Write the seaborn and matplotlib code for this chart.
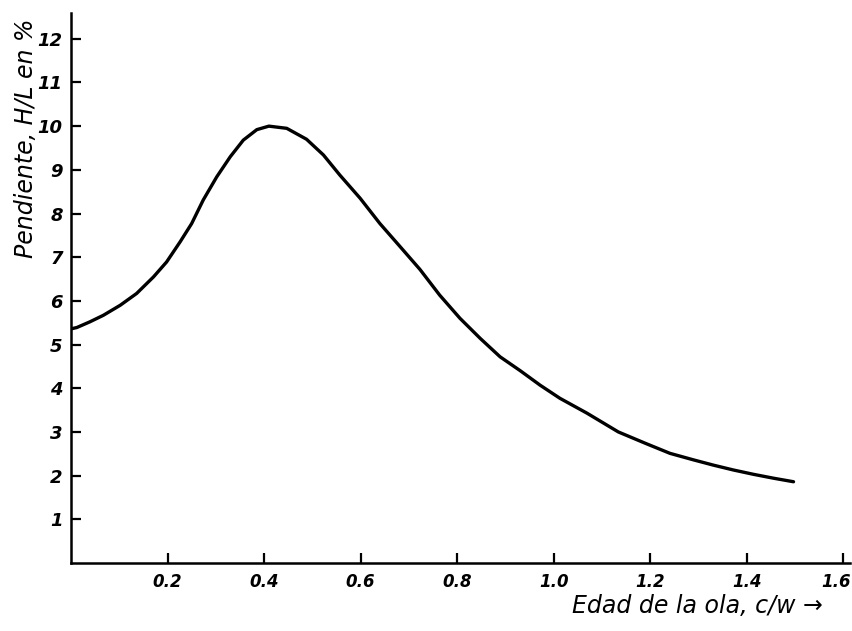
import matplotlib
matplotlib.use('Agg')
import matplotlib.pyplot as plt
import matplotlib.transforms as mtransforms
import seaborn as sns
import pandas as pd

# wave age c/w and steepness H/L (%)
edad = [0.0, 0.012, 0.039, 0.067, 0.102, 0.136, 0.171, 0.198, 0.226, 0.25,
        0.274, 0.302, 0.33, 0.357, 0.385, 0.41, 0.447, 0.488, 0.523, 0.557,
        0.599, 0.64, 0.682, 0.723, 0.764, 0.806, 0.848, 0.889, 0.931, 0.972,
        1.013, 1.069, 1.134, 1.19, 1.241, 1.29, 1.331, 1.372, 1.414, 1.456, 1.497]
pendiente = [5.36, 5.39, 5.52, 5.67, 5.90, 6.17, 6.55, 6.89, 7.35, 7.77,
             8.31, 8.84, 9.30, 9.68, 9.92, 10.0, 9.95, 9.70, 9.34, 8.88,
             8.35, 7.77, 7.24, 6.72, 6.13, 5.60, 5.14, 4.72, 4.40, 4.07,
             3.77, 3.43, 3.00, 2.74, 2.51, 2.36, 2.24, 2.13, 2.03, 1.94, 1.86]
xticks = [0.2, 0.4, 0.6, 0.8, 1.0, 1.2, 1.4, 1.6]
yticks = list(range(1, 13))

df = pd.DataFrame({'edad': edad, 'pendiente': pendiente})

sns.set_style('ticks')
plt.rcParams['font.family'] = ['DejaVu Sans']

fig = plt.figure(figsize=(8.52, 6.31), dpi=100)
ax = fig.add_axes([71/852, 1 - 563/631, (850 - 71)/852, (563 - 13)/631])

sns.lineplot(data=df, x='edad', y='pendiente', color='black', linewidth=2.4, ax=ax)

ax.set_xlim(0, 1.614)
ax.set_ylim(0, 12.59)
ax.set_xticks(xticks)
ax.set_xticklabels([f'{t:.1f}' for t in xticks], fontstyle='italic', fontsize=12,
                   fontweight='bold')
ax.set_yticks(yticks)
ax.set_yticklabels([str(t) for t in yticks], fontstyle='italic', fontsize=13,
                   fontweight='bold')
ax.tick_params(direction='in', length=7, width=1.6, colors='black')
ax.tick_params(axis='y', pad=6)
ax.tick_params(axis='x', pad=7)
# last label sits a bit left of its tick, as in the original
last = ax.get_xticklabels()[-1]
last.set_transform(last.get_transform() +
                   mtransforms.ScaledTranslation(-7/100, 0, fig.dpi_scale_trans))
for side in ['top', 'right']:
    ax.spines[side].set_visible(False)
for side in ['left', 'bottom']:
    ax.spines[side].set_linewidth(1.8)
    ax.spines[side].set_color('black')
ax.set_xlabel('')
ax.set_ylabel('')

fig.text(26/852, 1 - 138/631, 'Pendiente, H/L en %', rotation=90, ha='center', va='center',
         fontsize=17, fontstyle='italic', color='black')
fig.text(697/852, 1 - 606/631, 'Edad de la ola, c/w \u2192', ha='center', va='center',
         fontsize=17, fontstyle='italic', color='black')

fig.savefig('out.png', dpi=100)
